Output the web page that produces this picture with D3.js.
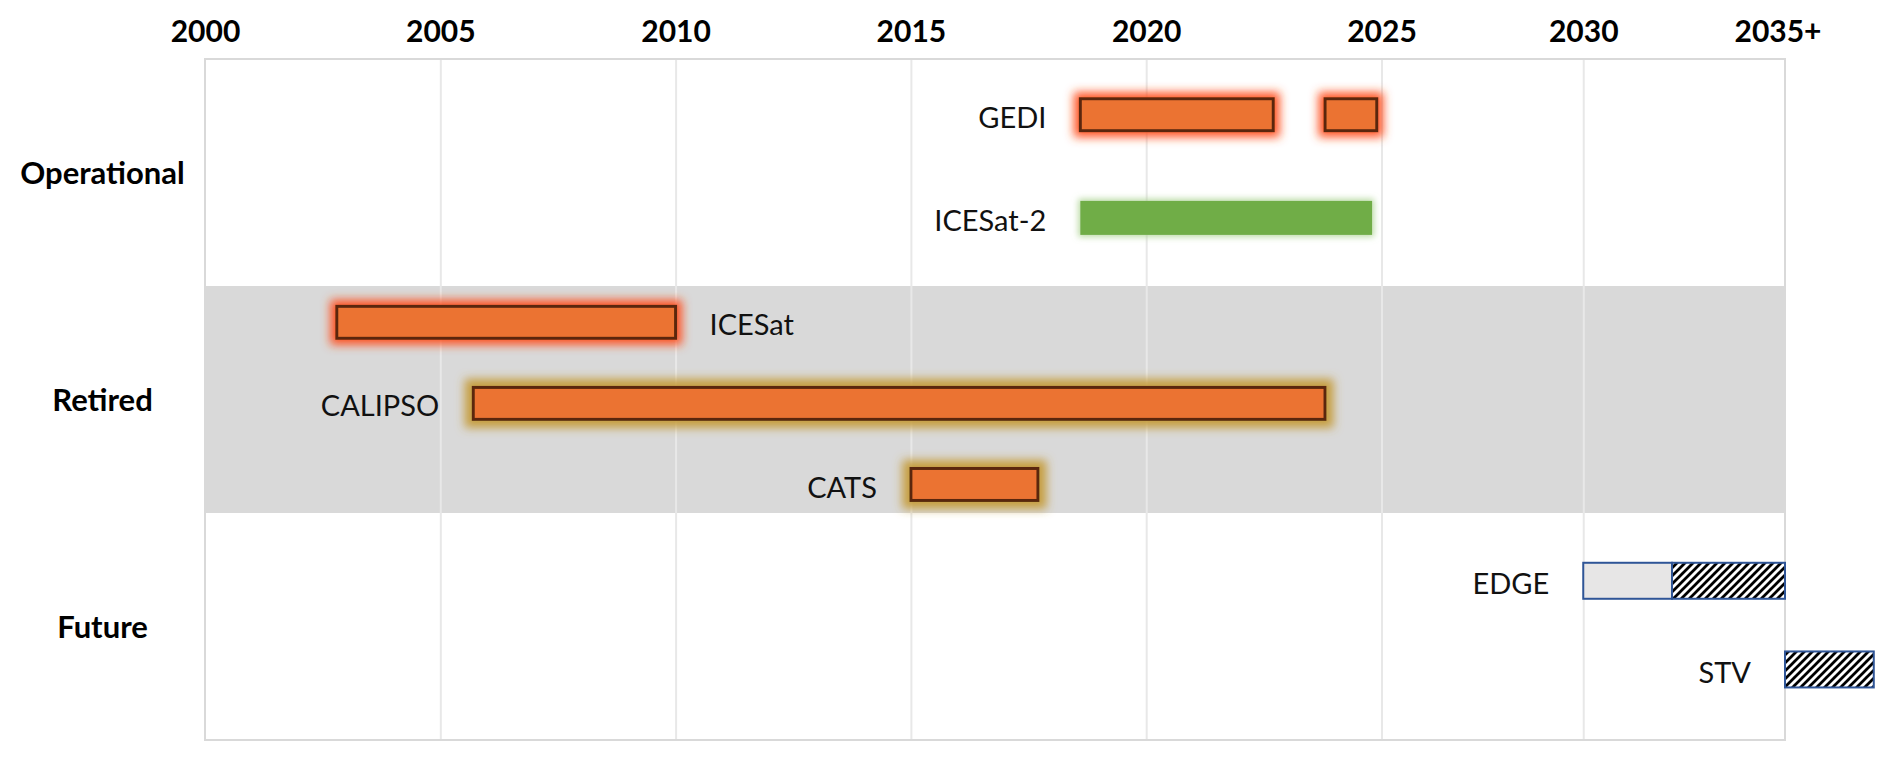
<!DOCTYPE html>
<html>
<head>
<meta charset="utf-8">
<script src="https://cdn.jsdelivr.net/npm/d3@7"></script>
<style>
body { margin: 0; background: #fff; }
text { font-family: Lato, "Open Sans", sans-serif; }
</style>
</head>
<body>
<div class="timeline"></div>
<script>
// Data ---------------------------------------------------------------------
const categories = ["Operational", "Retired", "Future"];
const tickYears = [2000, 2005, 2010, 2015, 2020, 2025, 2030, 2035];
const tickLabels = ["2000", "2005", "2010", "2015", "2020", "2025", "2030", "2035+"];

const missions = ["GEDI", "ICESat-2", "ICESat", "CALIPSO", "CATS", "EDGE", "STV"];
const missionStatus = ["Operational", "Operational", "Retired", "Retired", "Retired", "Future", "Future"];

// one entry per bar piece
const segMission = ["GEDI", "GEDI", "ICESat-2", "ICESat", "CALIPSO", "CATS", "EDGE", "EDGE", "STV"];
const segStart = [2018.6, 2023.8, 2018.6, 2002.8, 2005.7, 2015.0, 2030.0, 2032.2, 2035.0];
const segEnd   = [2022.7, 2024.9, 2024.8, 2010.0, 2023.8, 2017.7, 2032.2, 2035.0, 2037.2];
const segKind  = ["red", "red", "green", "red", "gold", "gold", "planned", "concept", "concept"];

// SVG Dimensions ---------------------------------------------------------------------
const width = 1892;
const height = 761;
const margin = { top: 59, right: 107, bottom: 21, left: 205 };

const svg = d3.select(".timeline")
  .append("svg")
  .attr("width", width)
  .attr("height", height);

const defs = svg.append("defs");

// glow filters
function glow(id, color, opacity, dilate, blur) {
  const f = defs.append("filter").attr("id", id)
    .attr("x", -0.5).attr("y", -1).attr("width", 2).attr("height", 3);
  f.append("feMorphology").attr("in", "SourceAlpha").attr("operator", "dilate")
    .attr("radius", dilate).attr("result", "d");
  f.append("feGaussianBlur").attr("in", "d").attr("stdDeviation", blur).attr("result", "b");
  f.append("feFlood").attr("flood-color", color).attr("flood-opacity", opacity);
  f.append("feComposite").attr("in2", "b").attr("operator", "in").attr("result", "g");
  const m = f.append("feMerge");
  m.append("feMergeNode").attr("in", "g");
  m.append("feMergeNode").attr("in", "SourceGraphic");
}
glow("glowRed", "#FF4E1C", 0.95, 5, 5);
glow("glowGold", "#C59B38", 0.95, 7, 5);
glow("glowGreen", "#A9D18E", 0.8, 2, 3);

// hatch
const pat = defs.append("pattern").attr("id", "hatch")
  .attr("patternUnits", "userSpaceOnUse").attr("width", 8).attr("height", 8);
pat.append("rect").attr("width", 8).attr("height", 8).attr("fill", "#fff");
pat.append("path").attr("d", "M-2,2 L2,-2 M0,8 L8,0 M6,10 L10,6")
  .attr("stroke", "#000").attr("stroke-width", 2.8);

// Scales ---------------------------------------------------------------------
const xScale = d3.scaleLinear()
  .domain([2000, 2025, 2035])
  .range([margin.left, 1381.5, width - margin.right]);

const yBand = d3.scaleBand()
  .domain(categories)
  .range([margin.top, height - margin.bottom]);

const rowLayout = {
  Operational: { padding: 0.6, align: 0.45 },
  Retired: { padding: 0.4, align: 0.56 },
  Future: { padding: 0.78, align: 0.49 }
};
const rowScale = {};
categories.forEach(c => {
  rowScale[c] = d3.scalePoint()
    .domain(missions.filter((m, i) => missionStatus[i] === c))
    .range([yBand(c), yBand(c) + yBand.bandwidth()])
    .padding(rowLayout[c].padding)
    .align(rowLayout[c].align);
});
const rowY = m => rowScale[missionStatus[missions.indexOf(m)]](m);

// Background, band, grid ---------------------------------------------------------------------
svg.append("rect")
  .attr("x", margin.left).attr("y", yBand("Retired"))
  .attr("width", xScale(2035) - margin.left)
  .attr("height", yBand.bandwidth())
  .attr("fill", "#D9D9D9");

const xGrid = d3.axisBottom(xScale)
  .tickValues(tickYears.slice(1, -1))
  .tickSize(-(height - margin.bottom - margin.top))
  .tickFormat("");
svg.append("g")
  .attr("transform", `translate(0, ${height - margin.bottom})`)
  .call(xGrid)
  .call(g => g.select(".domain").remove())
  .call(g => g.selectAll("line").attr("stroke", "#E8E8E8").attr("stroke-width", 2));

svg.append("rect")
  .attr("x", margin.left).attr("y", margin.top)
  .attr("width", xScale(2035) - margin.left)
  .attr("height", height - margin.bottom - margin.top)
  .attr("fill", "none")
  .attr("stroke", "#D9D9D9")
  .attr("stroke-width", 2);

// Bars ---------------------------------------------------------------------
const kindStyle = {
  red:     { h: 32, fill: "#EB7333", stroke: "#5A280C", sw: 3, filter: "url(#glowRed)" },
  gold:    { h: 32, fill: "#EB7333", stroke: "#5A280C", sw: 3, filter: "url(#glowGold)" },
  green:   { h: 34, fill: "#70AD47", stroke: "none", sw: 0, filter: "url(#glowGreen)" },
  planned: { h: 36, fill: "#E7E6E6", stroke: "#2F5597", sw: 2, filter: null },
  concept: { h: 36, fill: "url(#hatch)", stroke: "#2F5597", sw: 2, filter: null }
};

const segs = segMission.map((m, i) => ({ m, s: segStart[i], e: segEnd[i], k: segKind[i] }));

svg.append("g")
  .selectAll("rect")
  .data(segs)
  .join("rect")
  .attr("x", d => xScale(d.s))
  .attr("width", d => xScale(d.e) - xScale(d.s))
  .attr("y", d => rowY(d.m) - kindStyle[d.k].h / 2)
  .attr("height", d => kindStyle[d.k].h)
  .attr("fill", d => kindStyle[d.k].fill)
  .attr("stroke", d => kindStyle[d.k].stroke)
  .attr("stroke-width", d => kindStyle[d.k].sw)
  .attr("filter", d => kindStyle[d.k].filter);

// Mission labels ---------------------------------------------------------------------
const labelRight = new Set(["ICESat"]);
const gap = 34;
svg.append("g")
  .selectAll("text")
  .data(missions)
  .join("text")
  .attr("x", m => {
    const mine = segs.filter(d => d.m === m);
    return labelRight.has(m)
      ? xScale(d3.max(mine, d => d.e)) + gap
      : xScale(d3.min(mine, d => d.s)) - gap;
  })
  .attr("y", m => rowY(m))
  .attr("dy", "0.45em")
  .attr("text-anchor", m => labelRight.has(m) ? "start" : "end")
  .style("font-size", "29px")
  .attr("fill", "#111")
  .text(m => m);

// Category labels ---------------------------------------------------------------------
svg.append("g")
  .selectAll("text")
  .data(categories)
  .join("text")
  .attr("x", margin.left / 2)
  .attr("y", c => yBand(c) + yBand.bandwidth() / 2)
  .attr("dy", "0.36em")
  .attr("text-anchor", "middle")
  .style("font-size", "31px")
  .style("font-weight", "bold")
  .attr("fill", "#000")
  .text(c => c);

// Year axis ---------------------------------------------------------------------
const xAxis = d3.axisTop(xScale)
  .tickValues(tickYears)
  .tickSize(0)
  .tickPadding(0)
  .tickFormat((d, i) => tickLabels[i]);
svg.append("g")
  .attr("transform", "translate(0, 42)")
  .call(xAxis)
  .call(g => g.select(".domain").remove())
  .call(g => g.selectAll("text")
    .attr("fill", "#000")
    .style("font-size", "30px")
    .style("font-weight", "bold"))
  .call(g => g.selectAll("text").filter(d => d === 2035).attr("dx", "-0.25em"));
</script>
</body>
</html>
